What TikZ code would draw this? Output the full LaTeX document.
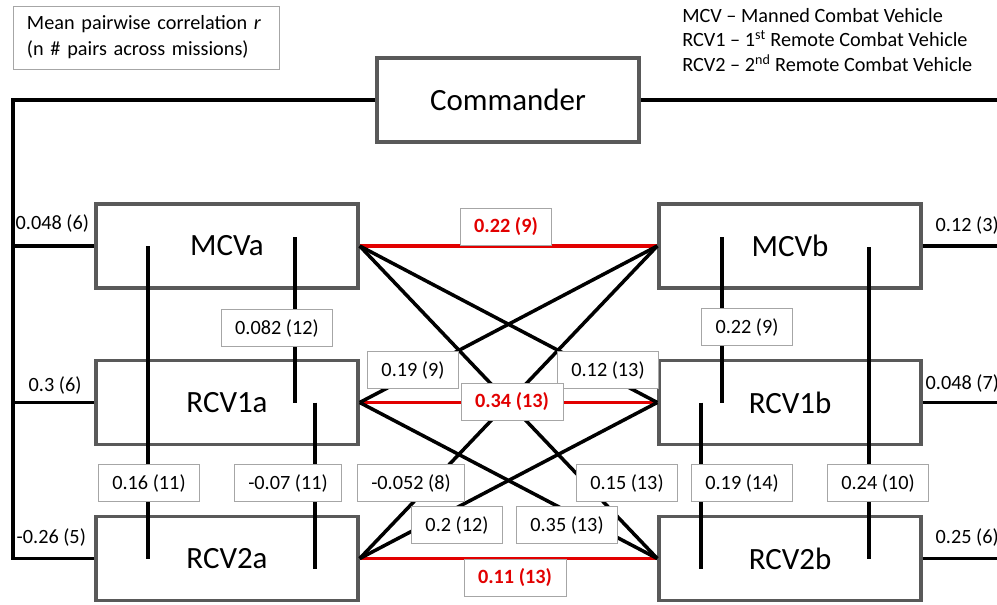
\documentclass[tikz,border=0pt]{standalone}
\usepackage{fontspec}
\setmainfont{Carlito}
\usetikzlibrary{calc}
\definecolor{boxgray}{RGB}{89,89,89}
\definecolor{lblgray}{RGB}{166,166,166}
\definecolor{linkred}{RGB}{226,0,0}
\tikzset{
  unit/.style={draw=boxgray, line width=2.4pt, fill=white, minimum width=6.55cm, minimum height=2.1cm, font=\fontsize{22}{26}\selectfont},
  link/.style={line width=2.5pt, black},
  hilink/.style={line width=2.5pt, linkred},
  corr/.style={draw=lblgray, line width=0.6pt, fill=white, inner xsep=10pt, inner ysep=0pt, minimum height=26pt, font=\fontsize{14.4}{17}\selectfont},
  hicorr/.style={corr, text=linkred, font=\fontsize{14.4}{17}\selectfont\bfseries},
  side/.style={inner sep=1pt, font=\fontsize{14.4}{17}\selectfont},
}
\begin{document}
\begin{tikzpicture}[x=0.025cm, y=-0.025cm]
    \useasboundingbox (0,0) rectangle (997,604);
    % key and abbreviations
    \node[draw=lblgray, line width=0.6pt, minimum width=6.65cm, minimum height=1.575cm, inner xsep=0.35cm, text width=5.95cm, align=left, font=\fontsize{14.4}{18.4}\selectfont] (legend) at (146,37.5) {Mean pairwise correlation \textit{r}\\(n \# pairs across missions)};
    \node[anchor=west, inner sep=0pt, align=left, font=\fontsize{14.4}{17.7}\selectfont] (abbrev) at (682,40) {MCV -- Manned Combat Vehicle\\RCV1 -- 1\textsuperscript{st} Remote Combat Vehicle\\RCV2 -- 2\textsuperscript{nd} Remote Combat Vehicle};
    % vehicles
    \node[unit] (cmd) at (508,100) {Commander};
    \node[unit] (mcva) at (227,246) {MCVa};
    \node[unit] (rcv1a) at (227,402.5) {RCV1a};
    \node[unit] (rcv2a) at (227,558.5) {RCV2a};
    \node[unit] (mcvb) at (790,246) {MCVb};
    \node[unit] (rcv1b) at (790,402.5) {RCV1b};
    \node[unit] (rcv2b) at (790,558.5) {RCV2b};
    % commander links
    \coordinate (lft) at (13,100);
    \coordinate (rgt) at (1000,100);
    \draw[link] (cmd.west) -- (lft) |- (rcv2a.west);
    \draw[link] (lft |- mcva.west) -- (mcva.west);
    \draw[link] (lft |- rcv1a.west) -- (rcv1a.west);
    \draw[link] (cmd.east) -- (rgt);
    \draw[link] (mcvb.east) -- (rgt |- mcvb.east);
    \draw[link] (rcv1b.east) -- (rgt |- rcv1b.east);
    \draw[link] (rcv2b.east) -- (rgt |- rcv2b.east);
    % links between the two crews
    \draw[hilink] (mcva.east) -- (mcvb.west);
    \draw[hilink] (rcv1a.east) -- (rcv1b.west);
    \draw[hilink] (rcv2a.east) -- (rcv2b.west);
    \foreach \a/\b in {mcva/rcv1b, mcva/rcv2b, rcv1a/mcvb, rcv2a/mcvb, rcv1a/rcv2b, rcv2a/rcv1b}
        \draw[link] (\a.east) -- (\b.west);
    % links within a crew
    \draw[link] ($(mcva.center)+(-79,0)$) -- ($(rcv2a.center)+(-79,0)$);
    \draw[link] ($(mcva.center)+(68,-9)$) -- ($(rcv1a.center)+(68,0)$);
    \draw[link] ($(rcv1a.center)+(88,0)$) -- ($(rcv2a.center)+(88,10)$);
    \draw[link] ($(mcvb.center)+(-68,-9)$) -- ($(rcv1b.center)+(-68,0)$);
    \draw[link] ($(mcvb.center)+(79,1)$) -- ($(rcv2b.center)+(79,0)$);
    \draw[link] ($(rcv1b.center)+(-89,0)$) -- ($(rcv2b.center)+(-89,10)$);
    % correlations
    \node[corr] (c1) at (277,328) {0.082 (12)};
    \node[corr] (c2) at (149,483) {0.16 (11)};
    \node[corr] (c3) at (288,483) {-0.07 (11)};
    \node[corr] (c4) at (747,327) {0.22 (9)};
    \node[corr] (c5) at (742,483) {0.19 (14)};
    \node[corr] (c6) at (878,483) {0.24 (10)};
    \node[corr] (c7) at (413,370) {0.19 (9)};
    \node[corr] (c8) at (608,370) {0.12 (13)};
    \node[corr] (c9) at (411,483) {-0.052 (8)};
    \node[corr] (c10) at (627,483) {0.15 (13)};
    \node[corr] (c11) at (457,525) {0.2 (12)};
    \node[corr] (c12) at (567,525) {0.35 (13)};
    \node[hicorr] (h1) at (506,227) {0.22 (9)};
    \node[hicorr] (h2) at (512,402) {0.34 (13)};
    \node[hicorr] (h3) at (515,578) {0.11 (13)};
    \node[side, anchor=west] (s1) at (14,223) {0.048 (6)};
    \node[side, anchor=west] (s2) at (27,385) {0.3 (6)};
    \node[side, anchor=west] (s3) at (15,537) {-0.26 (5)};
    \node[side, anchor=west] (s4) at (934,225) {0.12 (3)};
    \node[side, anchor=west] (s5) at (924,383) {0.048 (7)};
    \node[side, anchor=west] (s6) at (934,537) {0.25 (6)};
\end{tikzpicture}
\end{document}
